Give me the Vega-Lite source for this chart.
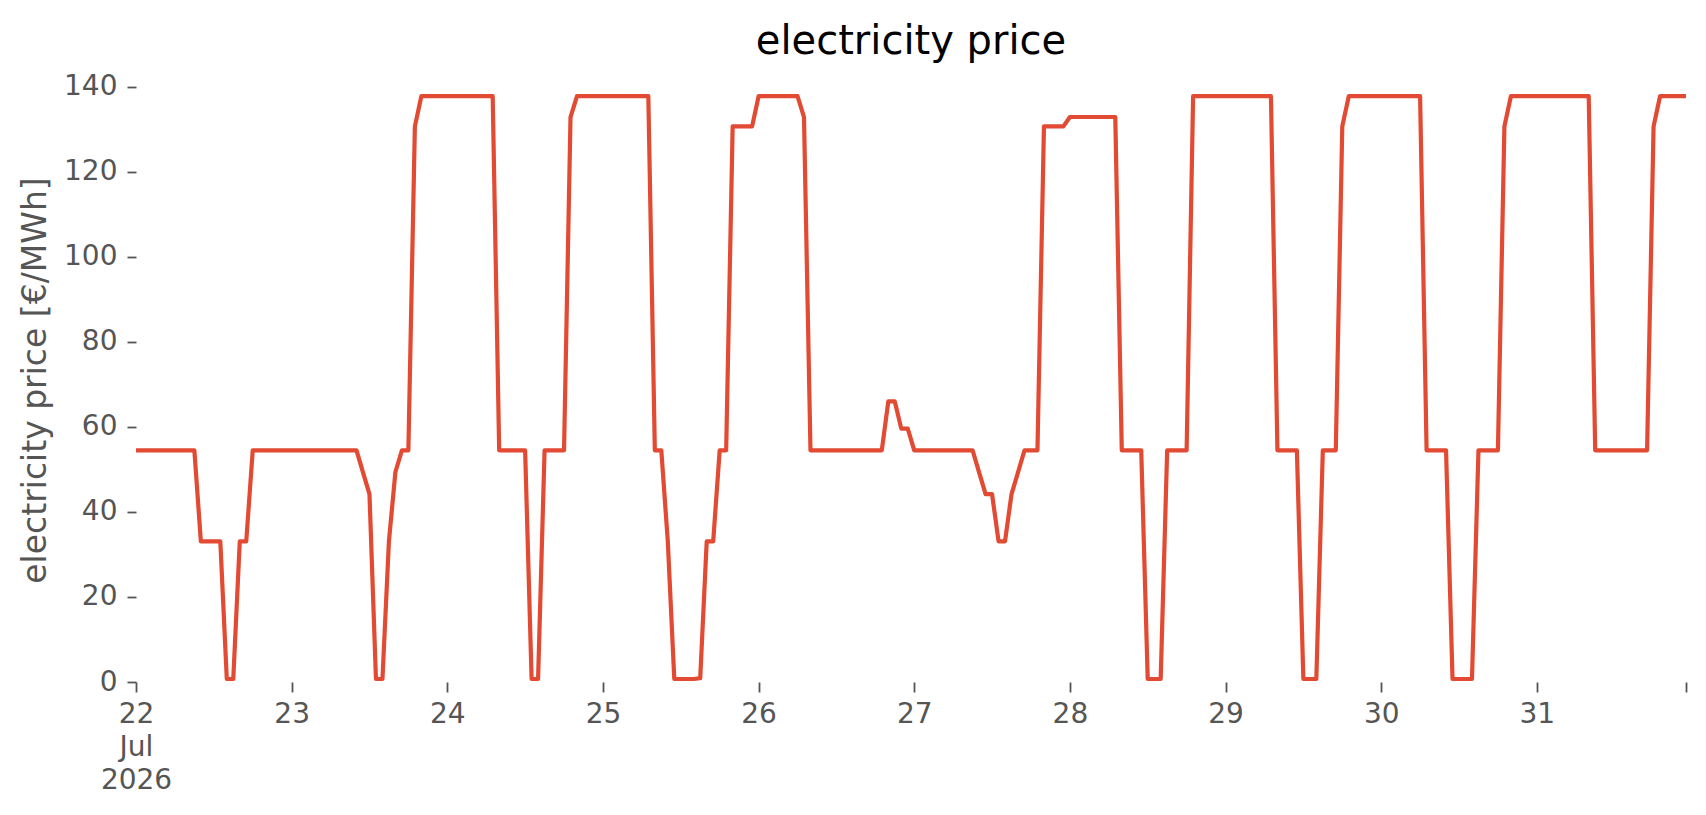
{
  "$schema": "https://vega.github.io/schema/vega-lite/v6.json",
  "width": 1550,
  "height": 616,
  "autosize": {"type": "none"},
  "padding": {"left": 136, "top": 66, "right": 20, "bottom": 133},
  "background": "white",
  "config": {"view": {"stroke": null}, "font": "DejaVu Sans"},
  "title": {"text": "electricity price", "fontSize": 40, "font": "DejaVu Sans", "fontWeight": "normal", "color": "#000000", "anchor": "middle", "frame": "group", "baseline": "alphabetic", "offset": -28},
  "data": {"values": [
    {"t":"2026-07-22T00:00","p":54.5},{"t":"2026-07-22T01:00","p":54.5},{"t":"2026-07-22T02:00","p":54.5},{"t":"2026-07-22T03:00","p":54.5},{"t":"2026-07-22T04:00","p":54.5},{"t":"2026-07-22T05:00","p":54.5},{"t":"2026-07-22T06:00","p":54.5},{"t":"2026-07-22T07:00","p":54.5},{"t":"2026-07-22T08:00","p":54.5},{"t":"2026-07-22T09:00","p":54.5},
    {"t":"2026-07-22T10:00","p":33.1},{"t":"2026-07-22T11:00","p":33.1},{"t":"2026-07-22T12:00","p":33.1},{"t":"2026-07-22T13:00","p":33.1},
    {"t":"2026-07-22T14:00","p":0.7},{"t":"2026-07-22T15:00","p":0.7},
    {"t":"2026-07-22T16:00","p":33.1},{"t":"2026-07-22T17:00","p":33.1},
    {"t":"2026-07-22T18:00","p":54.5},{"t":"2026-07-22T19:00","p":54.5},{"t":"2026-07-22T20:00","p":54.5},{"t":"2026-07-22T21:00","p":54.5},{"t":"2026-07-22T22:00","p":54.5},{"t":"2026-07-22T23:00","p":54.5},
    {"t":"2026-07-23T00:00","p":54.5},{"t":"2026-07-23T01:00","p":54.5},{"t":"2026-07-23T02:00","p":54.5},{"t":"2026-07-23T03:00","p":54.5},{"t":"2026-07-23T04:00","p":54.5},{"t":"2026-07-23T05:00","p":54.5},{"t":"2026-07-23T06:00","p":54.5},{"t":"2026-07-23T07:00","p":54.5},{"t":"2026-07-23T08:00","p":54.5},{"t":"2026-07-23T09:00","p":54.5},{"t":"2026-07-23T10:00","p":54.5},
    {"t":"2026-07-23T11:00","p":49.3},{"t":"2026-07-23T12:00","p":44.2},
    {"t":"2026-07-23T13:00","p":0.7},{"t":"2026-07-23T14:00","p":0.7},
    {"t":"2026-07-23T15:00","p":33.1},{"t":"2026-07-23T16:00","p":49.4},
    {"t":"2026-07-23T17:00","p":54.5},{"t":"2026-07-23T18:00","p":54.5},
    {"t":"2026-07-23T19:00","p":130.7},
    {"t":"2026-07-23T20:00","p":137.8},{"t":"2026-07-23T21:00","p":137.8},{"t":"2026-07-23T22:00","p":137.8},{"t":"2026-07-23T23:00","p":137.8},
    {"t":"2026-07-24T00:00","p":137.8},{"t":"2026-07-24T01:00","p":137.8},{"t":"2026-07-24T02:00","p":137.8},{"t":"2026-07-24T03:00","p":137.8},{"t":"2026-07-24T04:00","p":137.8},{"t":"2026-07-24T05:00","p":137.8},{"t":"2026-07-24T06:00","p":137.8},{"t":"2026-07-24T07:00","p":137.8},
    {"t":"2026-07-24T08:00","p":54.5},{"t":"2026-07-24T09:00","p":54.5},{"t":"2026-07-24T10:00","p":54.5},{"t":"2026-07-24T11:00","p":54.5},{"t":"2026-07-24T12:00","p":54.5},
    {"t":"2026-07-24T13:00","p":0.7},{"t":"2026-07-24T14:00","p":0.7},
    {"t":"2026-07-24T15:00","p":54.5},{"t":"2026-07-24T16:00","p":54.5},{"t":"2026-07-24T17:00","p":54.5},{"t":"2026-07-24T18:00","p":54.5},
    {"t":"2026-07-24T19:00","p":132.9},
    {"t":"2026-07-24T20:00","p":137.8},{"t":"2026-07-24T21:00","p":137.8},{"t":"2026-07-24T22:00","p":137.8},{"t":"2026-07-24T23:00","p":137.8},
    {"t":"2026-07-25T00:00","p":137.8},{"t":"2026-07-25T01:00","p":137.8},{"t":"2026-07-25T02:00","p":137.8},{"t":"2026-07-25T03:00","p":137.8},{"t":"2026-07-25T04:00","p":137.8},{"t":"2026-07-25T05:00","p":137.8},{"t":"2026-07-25T06:00","p":137.8},{"t":"2026-07-25T07:00","p":137.8},
    {"t":"2026-07-25T08:00","p":54.5},{"t":"2026-07-25T09:00","p":54.5},
    {"t":"2026-07-25T10:00","p":33.1},
    {"t":"2026-07-25T11:00","p":0.7},{"t":"2026-07-25T12:00","p":0.7},{"t":"2026-07-25T13:00","p":0.7},{"t":"2026-07-25T14:00","p":0.7},{"t":"2026-07-25T15:00","p":0.9},
    {"t":"2026-07-25T16:00","p":33.1},{"t":"2026-07-25T17:00","p":33.1},
    {"t":"2026-07-25T18:00","p":54.5},{"t":"2026-07-25T19:00","p":54.5},
    {"t":"2026-07-25T20:00","p":130.7},{"t":"2026-07-25T21:00","p":130.7},{"t":"2026-07-25T22:00","p":130.7},{"t":"2026-07-25T23:00","p":130.7},
    {"t":"2026-07-26T00:00","p":137.8},{"t":"2026-07-26T01:00","p":137.8},{"t":"2026-07-26T02:00","p":137.8},{"t":"2026-07-26T03:00","p":137.8},{"t":"2026-07-26T04:00","p":137.8},{"t":"2026-07-26T05:00","p":137.8},{"t":"2026-07-26T06:00","p":137.8},
    {"t":"2026-07-26T07:00","p":132.9},
    {"t":"2026-07-26T08:00","p":54.5},{"t":"2026-07-26T09:00","p":54.5},{"t":"2026-07-26T10:00","p":54.5},{"t":"2026-07-26T11:00","p":54.5},{"t":"2026-07-26T12:00","p":54.5},{"t":"2026-07-26T13:00","p":54.5},{"t":"2026-07-26T14:00","p":54.5},{"t":"2026-07-26T15:00","p":54.5},{"t":"2026-07-26T16:00","p":54.5},{"t":"2026-07-26T17:00","p":54.5},{"t":"2026-07-26T18:00","p":54.5},{"t":"2026-07-26T19:00","p":54.5},
    {"t":"2026-07-26T20:00","p":66.0},{"t":"2026-07-26T21:00","p":66.0},
    {"t":"2026-07-26T22:00","p":59.6},{"t":"2026-07-26T23:00","p":59.6},
    {"t":"2026-07-27T00:00","p":54.5},{"t":"2026-07-27T01:00","p":54.5},{"t":"2026-07-27T02:00","p":54.5},{"t":"2026-07-27T03:00","p":54.5},{"t":"2026-07-27T04:00","p":54.5},{"t":"2026-07-27T05:00","p":54.5},{"t":"2026-07-27T06:00","p":54.5},{"t":"2026-07-27T07:00","p":54.5},{"t":"2026-07-27T08:00","p":54.5},{"t":"2026-07-27T09:00","p":54.5},
    {"t":"2026-07-27T10:00","p":49.3},
    {"t":"2026-07-27T11:00","p":44.2},{"t":"2026-07-27T12:00","p":44.2},
    {"t":"2026-07-27T13:00","p":33.1},{"t":"2026-07-27T14:00","p":33.1},
    {"t":"2026-07-27T15:00","p":44.2},{"t":"2026-07-27T16:00","p":49.3},
    {"t":"2026-07-27T17:00","p":54.5},{"t":"2026-07-27T18:00","p":54.5},{"t":"2026-07-27T19:00","p":54.5},
    {"t":"2026-07-27T20:00","p":130.7},{"t":"2026-07-27T21:00","p":130.7},{"t":"2026-07-27T22:00","p":130.7},{"t":"2026-07-27T23:00","p":130.7},
    {"t":"2026-07-28T00:00","p":132.9},{"t":"2026-07-28T01:00","p":132.9},{"t":"2026-07-28T02:00","p":132.9},{"t":"2026-07-28T03:00","p":132.9},{"t":"2026-07-28T04:00","p":132.9},{"t":"2026-07-28T05:00","p":132.9},{"t":"2026-07-28T06:00","p":132.9},{"t":"2026-07-28T07:00","p":132.9},
    {"t":"2026-07-28T08:00","p":54.5},{"t":"2026-07-28T09:00","p":54.5},{"t":"2026-07-28T10:00","p":54.5},{"t":"2026-07-28T11:00","p":54.5},
    {"t":"2026-07-28T12:00","p":0.7},{"t":"2026-07-28T13:00","p":0.7},{"t":"2026-07-28T14:00","p":0.7},
    {"t":"2026-07-28T15:00","p":54.5},{"t":"2026-07-28T16:00","p":54.5},{"t":"2026-07-28T17:00","p":54.5},{"t":"2026-07-28T18:00","p":54.5},
    {"t":"2026-07-28T19:00","p":137.8},{"t":"2026-07-28T20:00","p":137.8},{"t":"2026-07-28T21:00","p":137.8},{"t":"2026-07-28T22:00","p":137.8},{"t":"2026-07-28T23:00","p":137.8},
    {"t":"2026-07-29T00:00","p":137.8},{"t":"2026-07-29T01:00","p":137.8},{"t":"2026-07-29T02:00","p":137.8},{"t":"2026-07-29T03:00","p":137.8},{"t":"2026-07-29T04:00","p":137.8},{"t":"2026-07-29T05:00","p":137.8},{"t":"2026-07-29T06:00","p":137.8},{"t":"2026-07-29T07:00","p":137.8},
    {"t":"2026-07-29T08:00","p":54.5},{"t":"2026-07-29T09:00","p":54.5},{"t":"2026-07-29T10:00","p":54.5},{"t":"2026-07-29T11:00","p":54.5},
    {"t":"2026-07-29T12:00","p":0.7},{"t":"2026-07-29T13:00","p":0.7},{"t":"2026-07-29T14:00","p":0.7},
    {"t":"2026-07-29T15:00","p":54.5},{"t":"2026-07-29T16:00","p":54.5},{"t":"2026-07-29T17:00","p":54.5},
    {"t":"2026-07-29T18:00","p":130.7},
    {"t":"2026-07-29T19:00","p":137.8},{"t":"2026-07-29T20:00","p":137.8},{"t":"2026-07-29T21:00","p":137.8},{"t":"2026-07-29T22:00","p":137.8},{"t":"2026-07-29T23:00","p":137.8},
    {"t":"2026-07-30T00:00","p":137.8},{"t":"2026-07-30T01:00","p":137.8},{"t":"2026-07-30T02:00","p":137.8},{"t":"2026-07-30T03:00","p":137.8},{"t":"2026-07-30T04:00","p":137.8},{"t":"2026-07-30T05:00","p":137.8},{"t":"2026-07-30T06:00","p":137.8},
    {"t":"2026-07-30T07:00","p":54.5},{"t":"2026-07-30T08:00","p":54.5},{"t":"2026-07-30T09:00","p":54.5},{"t":"2026-07-30T10:00","p":54.5},
    {"t":"2026-07-30T11:00","p":0.7},{"t":"2026-07-30T12:00","p":0.7},{"t":"2026-07-30T13:00","p":0.7},{"t":"2026-07-30T14:00","p":0.7},
    {"t":"2026-07-30T15:00","p":54.5},{"t":"2026-07-30T16:00","p":54.5},{"t":"2026-07-30T17:00","p":54.5},{"t":"2026-07-30T18:00","p":54.5},
    {"t":"2026-07-30T19:00","p":130.7},
    {"t":"2026-07-30T20:00","p":137.8},{"t":"2026-07-30T21:00","p":137.8},{"t":"2026-07-30T22:00","p":137.8},{"t":"2026-07-30T23:00","p":137.8},
    {"t":"2026-07-31T00:00","p":137.8},{"t":"2026-07-31T01:00","p":137.8},{"t":"2026-07-31T02:00","p":137.8},{"t":"2026-07-31T03:00","p":137.8},{"t":"2026-07-31T04:00","p":137.8},{"t":"2026-07-31T05:00","p":137.8},{"t":"2026-07-31T06:00","p":137.8},{"t":"2026-07-31T07:00","p":137.8},{"t":"2026-07-31T08:00","p":137.8},
    {"t":"2026-07-31T09:00","p":54.5},{"t":"2026-07-31T10:00","p":54.5},{"t":"2026-07-31T11:00","p":54.5},{"t":"2026-07-31T12:00","p":54.5},{"t":"2026-07-31T13:00","p":54.5},{"t":"2026-07-31T14:00","p":54.5},{"t":"2026-07-31T15:00","p":54.5},{"t":"2026-07-31T16:00","p":54.5},{"t":"2026-07-31T17:00","p":54.5},
    {"t":"2026-07-31T18:00","p":130.7},
    {"t":"2026-07-31T19:00","p":137.8},{"t":"2026-07-31T20:00","p":137.8},{"t":"2026-07-31T21:00","p":137.8},{"t":"2026-07-31T22:00","p":137.8},{"t":"2026-07-31T23:00","p":137.8}
  ]},
  "mark": {"type": "line", "color": "#E24A33", "strokeWidth": 4.2, "strokeJoin": "round", "clip": false},
  "encoding": {
    "x": {
      "field": "t", "type": "temporal",
      "scale": {"domain": [{"year": 2026, "month": "jul", "date": 22}, {"year": 2026, "month": "jul", "date": 31, "hours": 23}], "nice": false},
      "axis": {
        "title": null,
        "domain": false,
        "grid": false,
        "values": [
          {"year": 2026, "month": "jul", "date": 22}, {"year": 2026, "month": "jul", "date": 23}, {"year": 2026, "month": "jul", "date": 24},
          {"year": 2026, "month": "jul", "date": 25}, {"year": 2026, "month": "jul", "date": 26}, {"year": 2026, "month": "jul", "date": 27},
          {"year": 2026, "month": "jul", "date": 28}, {"year": 2026, "month": "jul", "date": 29}, {"year": 2026, "month": "jul", "date": 30},
          {"year": 2026, "month": "jul", "date": 31}, {"year": 2026, "month": "jul", "date": 31, "hours": 23}
        ],
        "labelExpr": "hours(datum.value) == 23 ? '' : (date(datum.value) == 22 ? ['22', 'Jul', '2026'] : timeFormat(datum.value, '%d'))",
        "labelFontSize": 28,
        "labelColor": "#555555",
        "labelFont": "DejaVu Sans",
        "labelLineHeight": 33,
        "labelAlign": "center",
        "labelBaseline": "top",
        "labelPadding": 8,
        "labelOverlap": false,
        "labelFlush": false,
        "tickColor": "#555555",
        "tickSize": 10,
        "tickWidth": 1.8
      }
    },
    "y": {
      "field": "p", "type": "quantitative",
      "scale": {"domain": [0, 144.9], "nice": false, "zero": true},
      "axis": {
        "title": "electricity price [€/MWh]",
        "titleFontSize": 33,
        "titleFont": "DejaVu Sans",
        "titleFontWeight": "normal",
        "titleColor": "#555555",
        "titleAngle": -90,
        "titleAlign": "center",
        "titleBaseline": "alphabetic",
        "titleX": -91,
        "titleY": 314,
        "values": [0, 20, 40, 60, 80, 100, 120, 140],
        "domain": false,
        "grid": false,
        "labelFontSize": 28,
        "labelColor": "#555555",
        "labelFont": "DejaVu Sans",
        "labelPadding": 10,
        "tickColor": "#555555",
        "tickSize": 9,
        "tickWidth": 1.8
      }
    }
  }
}
